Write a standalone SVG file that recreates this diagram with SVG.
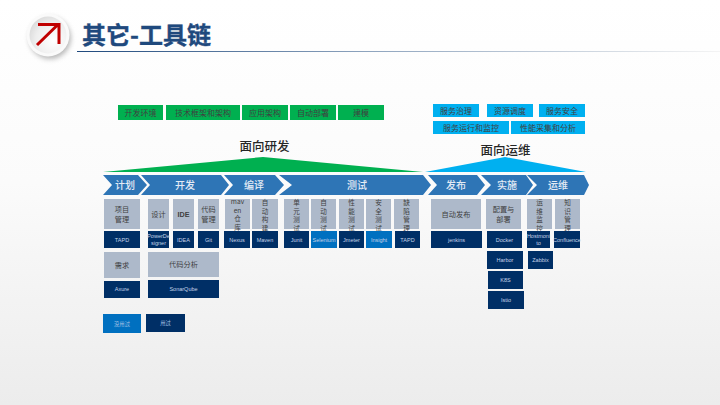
<svg xmlns="http://www.w3.org/2000/svg" width="720" height="405" viewBox="0 0 720 405">
<style>
text{font-family:"Noto Sans CJK SC","Noto Sans",sans-serif;text-anchor:middle}
.g{fill:#00b050}.s{fill:#00b0f0}.y{fill:#adb9ca}.d{fill:#002f66}.b{fill:#0070c0}.c{fill:#2e75b6}
.t8{font-size:8px;fill:#404040}
.t6{font-size:7.2px;fill:#404040}
.v{font-size:6.6px;fill:#404040}
.w{font-size:5.5px;fill:#c5d3e8;font-family:"Liberation Sans","Noto Sans CJK SC",sans-serif}
.l{font-size:5.3px;fill:#a9c4e6}
.h{font-size:10px;fill:#e4ebf5;font-weight:500}
.m{font-size:12.500px;fill:#262626;font-weight:500}
</style>
<defs>
<linearGradient id="bg" x1="0" y1="0" x2="0" y2="1"><stop offset="0" stop-color="#ffffff"/><stop offset="0.45" stop-color="#fbfbfb"/><stop offset="1" stop-color="#ececec"/></linearGradient>
<linearGradient id="rule" x1="0" y1="0" x2="1" y2="0"><stop offset="0" stop-color="#1f497d"/><stop offset="0.45" stop-color="#8ea4be"/><stop offset="1" stop-color="#f4f4f4"/></linearGradient>
<radialGradient id="disc" cx="0.65" cy="0.65" r="0.8"><stop offset="0" stop-color="#ffffff"/><stop offset="0.6" stop-color="#eeeeee"/><stop offset="1" stop-color="#d4d4d4"/></radialGradient>
<filter id="sh" x="-30%" y="-30%" width="170%" height="170%"><feGaussianBlur stdDeviation="2.500"/></filter>
</defs>
<rect width="720" height="405" fill="url(#bg)"/>
<g id="title">
<circle cx="50" cy="38" r="21" fill="#8a8a8a" opacity="0.6" filter="url(#sh)"/>
<circle cx="48" cy="35" r="21.500" fill="#fafafa"/>
<circle cx="48" cy="35" r="18.500" fill="url(#disc)"/>
<path d="M37 45 L58 24.500 M38 24.500 H59 V44" fill="none" stroke="#c00000" stroke-width="3"/>
<rect x="77" y="51" width="643" height="1" fill="url(#rule)"/>
<text x="146.500" y="44" style="font-size:24px;font-weight:700;fill:#1f497d;stroke:#1f497d;stroke-width:.4">其它-工具链</text>
</g>
<g id="arch-dev">
<rect class="g" x="118" y="105" width="45" height="15"/><text class="t8" x="140.500" y="115.500">开发环境</text>
<rect class="g" x="166" y="105" width="74" height="15"/><text class="t8" x="203" y="115.500">技术框架和架构</text>
<rect class="g" x="242" y="105" width="46" height="15"/><text class="t8" x="265" y="115.500">应用架构</text>
<rect class="g" x="290" y="105" width="46" height="15"/><text class="t8" x="313" y="115.500">自动部署</text>
<rect class="g" x="338" y="105" width="46" height="15"/><text class="t8" x="361" y="115.500">建模</text>
</g>
<g id="arch-ops">
<rect class="s" x="433" y="104" width="46" height="13"/><text class="t8" x="456" y="113.500">服务治理</text>
<rect class="s" x="487" y="104" width="46" height="13"/><text class="t8" x="510" y="113.500">资源调度</text>
<rect class="s" x="539" y="104" width="46" height="13"/><text class="t8" x="562" y="113.500">服务安全</text>
<rect class="s" x="433" y="121" width="76" height="13"/><text class="t8" x="471" y="130.500">服务运行和监控</text>
<rect class="s" x="511" y="121" width="74" height="13"/><text class="t8" x="548" y="130.500">性能采集和分析</text>
</g>
<g id="dev-head">
<text class="m" x="264.500" y="151">面向研发</text>
<polygon class="g" points="103,172 263,157 423,172"/>
</g>
<g id="ops-head">
<text class="m" x="505.500" y="155">面向运维</text>
<polygon class="s" points="425,172 505,157 586,172"/>
</g>
<g id="phases">
<g id="p-plan"><polygon class="c" points="103,175 138,175 147,185 138,195 103,195 112,185"/><text class="h" x="125" y="189">计划</text></g>
<g id="p-dev"><polygon class="c" points="141,175 221,175 229,185 221,195 141,195 150,185"/><text class="h" x="185" y="189">开发</text></g>
<g id="p-build"><polygon class="c" points="224,175 275,175 284,185 275,195 224,195 233,185"/><text class="h" x="254" y="189">编译</text></g>
<g id="p-test"><polygon class="c" points="279,175 423,175 431,185 423,195 279,195 292,185"/><text class="h" x="357" y="189">测试</text></g>
<g id="p-rel"><polygon class="c" points="428,175 477,175 485,185 477,195 428,195 437,185"/><text class="h" x="456" y="189">发布</text></g>
<g id="p-impl"><polygon class="c" points="481,175 526,175 533,185 526,195 481,195 491,185"/><text class="h" x="507" y="189">实施</text></g>
<g id="p-ops"><polygon class="c" points="527,175 584,175 589,185 584,195 527,195 537,185"/><text class="h" x="558" y="189">运维</text></g>
</g>
<g id="n-plan"><rect class="y" x="104" y="199" width="36" height="30"/><text class="t6" x="122" y="212">项目<tspan x="122" dy="9.500">管理</tspan></text></g>
<g id="n-tapd1"><rect class="d" x="104" y="231" width="36" height="17"/><text class="w" x="122" y="242">TAPD</text></g>
<g id="n-design"><rect class="y" x="148" y="199" width="21" height="30"/><text class="t6" x="158.500" y="217">设计</text></g>
<g id="n-pd"><rect class="d" x="148" y="231" width="21" height="17"/><text class="w" x="158.500" y="238">PowerDe<tspan x="158.500" dy="7">signer</tspan></text></g>
<g id="n-ide"><rect class="y" x="173" y="199" width="21" height="30"/><text class="t6" x="183.500" y="217" style="font-family:'Liberation Sans',sans-serif;font-weight:700">IDE</text></g>
<g id="n-idea"><rect class="d" x="173" y="231" width="21" height="17"/><text class="w" x="183.500" y="242">IDEA</text></g>
<g id="n-code"><rect class="y" x="198" y="199" width="21" height="30"/><text class="t6" x="208.500" y="212">代码<tspan x="208.500" dy="9.500">管理</tspan></text></g>
<g id="n-git"><rect class="d" x="198" y="231" width="21" height="17"/><text class="w" x="208.500" y="242">Git</text></g>
<g id="n-maven"><rect class="y" x="225" y="199" width="25" height="30"/><text class="v" x="237.500" y="204">mav<tspan x="237.500" dy="8.500">en</tspan><tspan x="237.500" dy="8.500">仓</tspan><tspan x="237.500" dy="8.500">库</tspan></text></g>
<g id="n-nexus"><rect class="d" x="224" y="231" width="26" height="17"/><text class="w" x="237" y="242">Nexus</text></g>
<g id="n-auto"><rect class="y" x="252" y="199" width="26" height="30"/><text class="v" x="265" y="205">自<tspan x="265" dy="8.500">动</tspan><tspan x="265" dy="8.500">构</tspan><tspan x="265" dy="8.500">建</tspan></text></g>
<g id="n-mvn"><rect class="d" x="252" y="231" width="26" height="17"/><text class="w" x="265" y="242">Maven</text></g>
<g id="n-unit"><rect class="y" x="284" y="199" width="25" height="30"/><text class="v" x="296.500" y="205">单<tspan x="296.500" dy="8.500">元</tspan><tspan x="296.500" dy="8.500">测</tspan><tspan x="296.500" dy="8.500">试</tspan></text></g>
<g id="n-junit"><rect class="d" x="284" y="231" width="25" height="17"/><text class="w" x="296.500" y="242">Junit</text></g>
<g id="n-autot"><rect class="y" x="311" y="199" width="25" height="30"/><text class="v" x="323.500" y="205">自<tspan x="323.500" dy="8.500">动</tspan><tspan x="323.500" dy="8.500">测</tspan><tspan x="323.500" dy="8.500">试</tspan></text></g>
<g id="n-sel"><rect class="b" x="311" y="231" width="26" height="17"/><text class="w" x="324" y="242">Selenium</text></g>
<g id="n-perf"><rect class="y" x="339" y="199" width="25" height="30"/><text class="v" x="351.500" y="205">性<tspan x="351.500" dy="8.500">能</tspan><tspan x="351.500" dy="8.500">测</tspan><tspan x="351.500" dy="8.500">试</tspan></text></g>
<g id="n-jm"><rect class="d" x="339" y="231" width="25" height="17"/><text class="w" x="351.500" y="242">Jmeter</text></g>
<g id="n-sec"><rect class="y" x="366" y="199" width="25" height="30"/><text class="v" x="378.500" y="205">安<tspan x="378.500" dy="8.500">全</tspan><tspan x="378.500" dy="8.500">测</tspan><tspan x="378.500" dy="8.500">试</tspan></text></g>
<g id="n-ins"><rect class="b" x="366" y="231" width="26" height="17"/><text class="w" x="379" y="242">Insight</text></g>
<g id="n-bug"><rect class="y" x="394" y="199" width="25" height="30"/><text class="v" x="406.500" y="205">缺<tspan x="406.500" dy="8.500">陷</tspan><tspan x="406.500" dy="8.500">管</tspan><tspan x="406.500" dy="8.500">理</tspan></text></g>
<g id="n-tapd2"><rect class="d" x="395" y="231" width="25" height="17"/><text class="w" x="407.500" y="242">TAPD</text></g>
<g id="n-req"><rect class="y" x="104" y="252" width="36" height="26"/><text class="t6" x="122" y="268">需求</text></g>
<g id="n-axure"><rect class="d" x="104" y="281" width="36" height="17"/><text class="w" x="122" y="291">Axure</text></g>
<g id="n-ana"><rect class="y" x="148" y="252" width="71" height="25"/><text class="t6" x="183.500" y="267">代码分析</text></g>
<g id="n-sonar"><rect class="d" x="148" y="280" width="71" height="18"/><text class="w" x="183.500" y="291">SonarQube</text></g>
<g id="n-rel"><rect class="y" x="431" y="199" width="50" height="30"/><text class="t6" x="456" y="217">自动发布</text></g>
<g id="n-jen"><rect class="d" x="431" y="231" width="51" height="17"/><text class="w" x="456.500" y="242">jenkins</text></g>
<g id="n-cfg"><rect class="y" x="486" y="199" width="35" height="30"/><text class="t6" x="503.500" y="212">配置与<tspan x="503.500" dy="9.500">部署</tspan></text></g>
<g id="n-docker"><rect class="d" x="487" y="231" width="35" height="17"/><text class="w" x="504.500" y="242">Docker</text></g>
<g id="n-harbor"><rect class="d" x="487" y="251" width="36" height="18"/><text class="w" x="505" y="262">Harbor</text></g>
<g id="n-k8s"><rect class="d" x="488" y="271" width="35" height="18"/><text class="w" x="505.500" y="282">K8S</text></g>
<g id="n-istio"><rect class="d" x="488" y="291" width="36" height="18"/><text class="w" x="506" y="302">Istio</text></g>
<g id="n-mon"><rect class="y" x="527" y="199" width="25" height="30"/><text class="v" x="539.500" y="205">运<tspan x="539.500" dy="8.500">维</tspan><tspan x="539.500" dy="8.500">监</tspan><tspan x="539.500" dy="8.500">控</tspan></text></g>
<g id="n-host"><rect class="d" x="527" y="231" width="23" height="17"/><text class="w" x="538.500" y="238">Hostmoni<tspan x="538.500" dy="7">to</tspan></text></g>
<g id="n-zab"><rect class="d" x="528" y="251" width="25" height="18"/><text class="w" x="540.500" y="262">Zabbix</text></g>
<g id="n-know"><rect class="y" x="555" y="199" width="25" height="30"/><text class="v" x="567.500" y="205">知<tspan x="567.500" dy="8.500">识</tspan><tspan x="567.500" dy="8.500">管</tspan><tspan x="567.500" dy="8.500">理</tspan></text></g>
<g id="n-conf"><rect class="d" x="554" y="231" width="26" height="17"/><text class="w" x="567" y="242">Confluence</text></g>
<g id="legend">
<rect class="b" x="103" y="314" width="38" height="19"/><text class="l" x="122" y="326">没用过</text>
<rect class="d" x="146" y="314" width="39" height="18"/><text class="l" x="165.500" y="325">用过</text>
</g>
<g id="connectors"></g>
</svg>
